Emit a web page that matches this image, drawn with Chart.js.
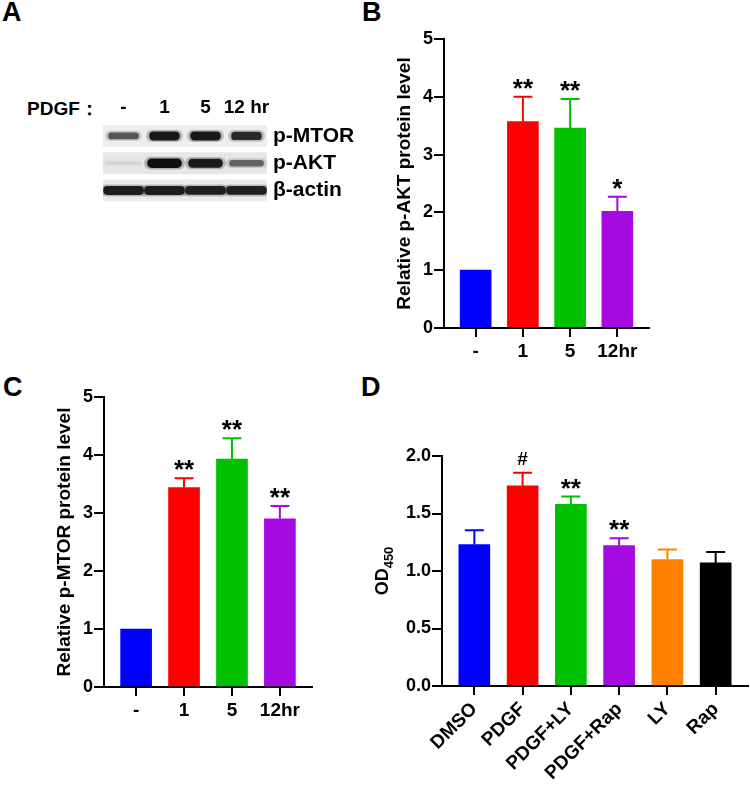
<!DOCTYPE html>
<html>
<head>
<meta charset="utf-8">
<script src="https://cdn.jsdelivr.net/npm/chart.js@4.4.1/dist/chart.umd.min.js"></script>
<style>
  body {
    margin: 0; width: 750px; height: 785px; position: relative; overflow: hidden;
    background: #fff; color: #000;
    font-family: "Liberation Sans", Arial, sans-serif;
  }
  canvas, .txt { position: absolute; }
  .letter { font-size: 27px; font-weight: bold; line-height: 1; }
  .pdgf { font-size: 19px; font-weight: bold; line-height: 1; white-space: nowrap; }
</style>
</head>
<body>
<div class="txt letter" style="left:2px;top:-1px">A</div>
<div class="txt letter" style="left:362px;top:-1px">B</div>
<div class="txt letter" style="left:3px;top:374px">C</div>
<div class="txt letter" style="left:361px;top:374px">D</div>
<div class="txt pdgf" style="left:27px;top:99px">PDGF：</div>

<canvas id="blot" width="370" height="130" style="left:0;top:90px"></canvas>
<canvas id="chartB" width="370" height="380" style="left:380px;top:0"></canvas>
<canvas id="chartC" width="370" height="405" style="left:0;top:380px"></canvas>
<canvas id="chartD" width="380" height="405" style="left:370px;top:380px"></canvas>

<script>
// Panel A - western blot, band darkness per lane (0 = nothing, 1 = saturated)
const blotLanes = ['-', '1', '5', '12 hr'];
const blotRows = ['p-MTOR', 'p-AKT', 'β-actin'];
const mtorBands = [0.62, 0.95, 0.95, 0.85];
const aktBands = [0.07, 1.0, 0.93, 0.55];
const actinBands = [0.92, 0.92, 0.9, 0.9];

// Panel B - relative p-AKT
const timeLabels = ['-', '1', '5', '12hr'];
const aktLevel = [1.0, 3.57, 3.46, 2.02];
const aktErr = [0, 0.43, 0.50, 0.25];
const aktMarks = ['', '**', '**', '*'];

// Panel C - relative p-MTOR
const mtorLevel = [1.0, 3.44, 3.93, 2.90];
const mtorErr = [0, 0.16, 0.36, 0.22];
const mtorMarks = ['', '**', '**', '**'];

// Panel D - OD450
const groups = ['DMSO', 'PDGF', 'PDGF+LY', 'PDGF+Rap', 'LY', 'Rap'];
const od450 = [1.23, 1.74, 1.58, 1.22, 1.10, 1.07];
const od450Err = [0.125, 0.115, 0.067, 0.064, 0.087, 0.096];
const od450Marks = ['', '#', '**', '**', '', ''];

const groupColors = ['#0000ff', '#ff0000', '#00c000', '#a50be0', '#ff8000', '#000000'];

const FAM = '"Liberation Sans", Arial, sans-serif';
Chart.defaults.font.family = FAM;
Chart.defaults.font.weight = 'bold';
Chart.defaults.color = '#000';
Chart.defaults.animation = false;

// error bars (upper only) + significance marks
const errorBars = {
  id: 'errorBars',
  afterDatasetsDraw(chart, args, opts) {
    const { ctx, scales: { x, y } } = chart;
    const pts = chart.data.datasets[0].data;
    ctx.save();
    ctx.lineWidth = 2;
    opts.errors.forEach((e, i) => {
      const v = pts[i].y;
      const px = x.getPixelForValue(i);
      const top = y.getPixelForValue(v + e);
      if (e > 0) {
        ctx.strokeStyle = opts.colors[i];
        ctx.beginPath();
        ctx.moveTo(px, y.getPixelForValue(v));
        ctx.lineTo(px, top);
        ctx.moveTo(px - 9.5, top);
        ctx.lineTo(px + 9.5, top);
        ctx.stroke();
      }
      const m = opts.marks[i];
      if (m) {
        ctx.fillStyle = '#000';
        ctx.textAlign = 'center';
        ctx.textBaseline = 'alphabetic';
        ctx.font = m === '#' ? `bold 19px ${FAM}` : `bold 26px ${FAM}`;
        ctx.fillText(m, px, top - (m === '#' ? 8 : 0));
      }
    });
    ctx.restore();
  }
};

// OD450 axis title with subscript
const odTitle = {
  id: 'odTitle',
  afterDraw(chart) {
    const { ctx, chartArea } = chart;
    ctx.save();
    ctx.fillStyle = '#000';
    ctx.font = `bold 18px ${FAM}`;
    const wMain = ctx.measureText('OD').width;
    ctx.font = `bold 13px ${FAM}`;
    const wSub = ctx.measureText('450').width;
    const mid = (chartArea.top + chartArea.bottom) / 2;
    ctx.translate(18, mid + (wMain + wSub) / 2);
    ctx.rotate(-Math.PI / 2);
    ctx.textAlign = 'left';
    ctx.textBaseline = 'alphabetic';
    ctx.font = `bold 18px ${FAM}`;
    ctx.fillText('OD', 0, 0);
    ctx.font = `bold 13px ${FAM}`;
    ctx.fillText('450', wMain, 5);
    ctx.restore();
  }
};

function barChart(id, cats, vals, errs, marks, cfg) {
  const n = cats.length;
  return new Chart(document.getElementById(id), {
    type: 'bar',
    data: {
      datasets: [{
        data: vals.map((v, i) => ({ x: i, y: v })),
        backgroundColor: groupColors.slice(0, n),
        barThickness: 31,
        borderWidth: 0
      }]
    },
    options: {
      responsive: false,
      layout: { padding: cfg.padding },
      plugins: {
        legend: { display: false },
        tooltip: { enabled: false },
        errorBars: { errors: errs, marks: marks, colors: groupColors }
      },
      scales: {
        x: {
          type: 'linear',
          min: -0.67,
          max: n - 0.33,
          offset: false,
          afterBuildTicks: s => { s.ticks = cats.map((c, i) => ({ value: i })); },
          afterFit: s => { s.height = cfg.xHeight; },
          border: { color: '#000', width: 2 },
          grid: { offset: false, drawOnChartArea: false, color: '#000', lineWidth: 2, tickLength: 9 },
          ticks: {
            callback: v => cats[v],
            font: { size: 19 },
            padding: 3,
            autoSkip: false,
            maxRotation: cfg.rot,
            minRotation: cfg.rot
          }
        },
        y: {
          min: 0,
          max: cfg.yMax,
          afterFit: s => { s.width = cfg.yWidth; },
          border: { color: '#000', width: 2 },
          grid: { drawOnChartArea: false, color: '#000', lineWidth: 2, tickLength: 10 },
          ticks: { stepSize: cfg.step, font: { size: 18 }, padding: 1, callback: cfg.fmt },
          title: cfg.title
            ? { display: true, text: cfg.title, font: { size: 19 }, padding: { top: cfg.titlePad, bottom: 0 } }
            : { display: false }
        }
      }
    },
    plugins: [errorBars].concat(cfg.extra || [])
  });
}

// Panel A blot: bands are floating bars on lane x row axes
const bandSets = [mtorBands, aktBands, actinBands];
const bandWidth = [30, 34, 40];
const stripGray = ['#eeeeee', '#e7e7e7', '#ebebeb'];
const blotData = [];
bandSets.forEach((band, r) => {
  blotData.push({
    data: band.map(a => [r - (0.04 + 0.12 * a), r + (0.04 + 0.12 * a)]),
    backgroundColor: band.map(a => `rgba(15,15,15,${a})`),
    barThickness: bandWidth[r], borderRadius: 10, borderSkipped: false, grouped: false, order: 1
  });
  blotData.push({
    data: band.map(a => [r - (0.1 + 0.12 * a), r + (0.1 + 0.12 * a)]),
    backgroundColor: band.map(a => `rgba(15,15,15,${a * 0.25})`),
    barThickness: bandWidth[r] + 6, borderRadius: 12, borderSkipped: false, grouped: false, order: 2
  });
  blotData.push({
    data: blotLanes.map(() => [r - 0.39, r + 0.39]),
    backgroundColor: stripGray[r],
    categoryPercentage: 1, barPercentage: 1, grouped: false, order: 3
  });
});

new Chart(document.getElementById('blot'), {
  type: 'bar',
  data: { labels: blotLanes, datasets: blotData },
  options: {
    responsive: false,
    layout: { padding: { left: 103, right: 0, top: 0, bottom: 3 } },
    plugins: { legend: { display: false }, tooltip: { enabled: false } },
    scales: {
      x: {
        position: 'top',
        grid: { display: false, drawTicks: false },
        border: { display: false },
        ticks: { font: { size: 19 }, padding: 6, autoSkip: false, maxRotation: 0 },
        afterFit: s => { s.height = 35; }
      },
      y: {
        position: 'right',
        reverse: true,
        min: -0.4,
        max: 2.4,
        grid: { display: false, drawTicks: false },
        border: { display: false },
        afterBuildTicks: s => { s.ticks = blotRows.map((r, i) => ({ value: i })); },
        afterFit: s => { s.width = 103; },
        ticks: { callback: v => blotRows[v], font: { size: 21 }, padding: 6, autoSkip: false }
      }
    }
  }
});

barChart('chartB', timeLabels, aktLevel, aktErr, aktMarks, {
  padding: { left: 0, top: 39, right: 101, bottom: 0 },
  yWidth: 64, xHeight: 52, yMax: 5, step: 1, rot: 0,
  fmt: v => v, title: 'Relative p-AKT protein level', titlePad: 13
});

barChart('chartC', timeLabels, mtorLevel, mtorErr, mtorMarks, {
  padding: { left: 0, top: 17, right: 58, bottom: 0 },
  yWidth: 104, xHeight: 98, yMax: 5, step: 1, rot: 0,
  fmt: v => v, title: 'Relative p-MTOR protein level', titlePad: 53
});

barChart('chartD', groups, od450, od450Err, od450Marks, {
  padding: { left: 0, top: 76, right: 2, bottom: 0 },
  yWidth: 72, xHeight: 99, yMax: 2, step: 0.5, rot: 45,
  fmt: v => v.toFixed(1), title: null, extra: [odTitle]
});
</script>
</body>
</html>
